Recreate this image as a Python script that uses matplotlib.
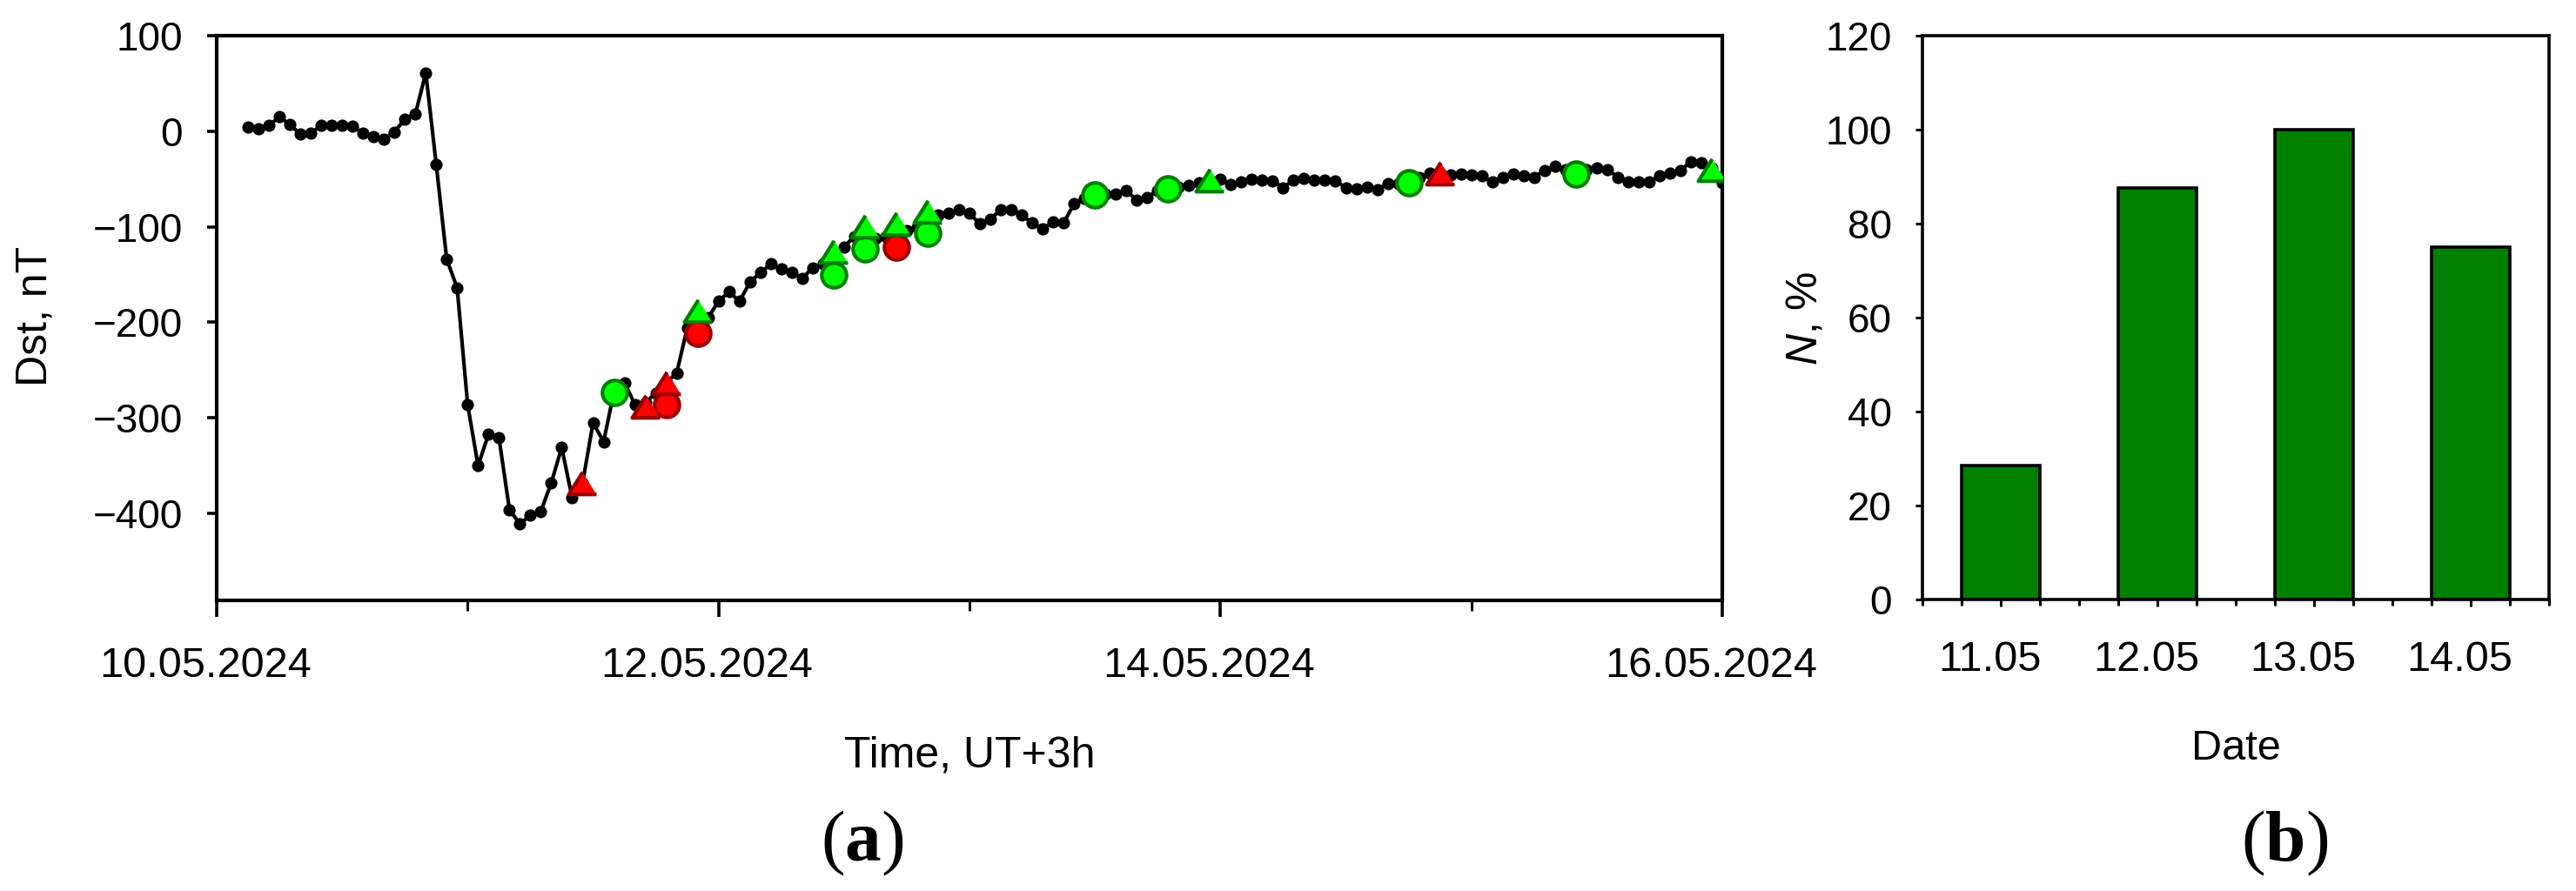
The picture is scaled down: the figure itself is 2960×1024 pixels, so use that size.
import numpy as np
import pandas as pd
import matplotlib
matplotlib.use("Agg")
import matplotlib.pyplot as plt
import matplotlib.dates as mdates
from matplotlib.markers import MarkerStyle
from matplotlib.ticker import MultipleLocator
import matplotlib.transforms as mtransforms

plt.rcParams['font.family'] = ['Liberation Sans', 'DejaVu Sans']
plt.rcParams['mathtext.fontset'] = 'custom'
plt.rcParams['mathtext.rm'] = 'Liberation Sans'
plt.rcParams['mathtext.it'] = 'Liberation Sans:italic'
plt.rcParams['mathtext.bf'] = 'Liberation Serif:bold'

# ---------------- data ----------------
dst_start = '2024-05-10 03:00'   # hourly Dst, UT+3h
dst = [
    4, 3, 6, 15, 7, -3, -2, 6, 6, 6, 5, -2, -6, -8, -1, 13, 18, 61,
    -35, -134, -164, -286, -350, -317, -321, -396, -411, -402, -398, -368,
    -331, -384, -368, -305, -325, -273, -263, -286, -284, -274, -263, -253,
    -206, -200, -195,
    -178, -168, -178, -158, -148, -139, -144, -148, -154, -143, -139, -132,
    -121, -110, -111, -112, -110, -109, -104, -100, -95, -88, -86, -82,
    -86, -97, -92, -82, -82, -88, -96, -102, -95, -96, -76, -70, -66, -66,
    -66, -62, -72, -69, -62, -60, -58, -57, -54, -51,
    -50, -56, -53, -50, -51, -52, -59, -51, -49, -51, -51, -52, -59, -60,
    -58, -61, -55, -55, -54, -48, -44, -44, -46, -45,
    -46, -47, -53, -48, -45, -47, -48, -41, -37, -40, -44, -40, -38, -40,
    -48, -53, -53, -53, -47, -44, -41, -32, -33, -38,
    -54,
]

circle_times = ['2024-05-11 14:00', '2024-05-11 19:00', '2024-05-11 22:00',
                '2024-05-12 11:00', '2024-05-12 14:00', '2024-05-12 17:00',
                '2024-05-12 20:00', '2024-05-13 12:00', '2024-05-13 19:00',
                '2024-05-14 18:00', '2024-05-15 10:00']
circle_values = [-273, -286, -211, -150, -123, -121.5, -107, -66.6, -60.4, -53.6, -44.5]
circle_ok = [True, False, False, True, True, False, True, True, True, True, True]

triangle_times = ['2024-05-11 11:00', '2024-05-11 17:00', '2024-05-11 19:00',
                  '2024-05-11 22:00', '2024-05-12 11:00', '2024-05-12 14:00',
                  '2024-05-12 17:00', '2024-05-12 20:00', '2024-05-13 23:00',
                  '2024-05-14 21:00', '2024-05-15 23:00']
triangle_values = [-368, -288, -263, -188, -126, -99, -97, -84, -51, -44, -40]
triangle_ok = [False, False, False, True, True, True, True, True, True, False, True]

bar_dates = ['11.05', '12.05', '13.05', '14.05']
bar_values = [28.6, 87.5, 100, 75]

# ---------------- figure ----------------
W, H = 2960, 1024
fig = plt.figure(figsize=(W / 100, H / 100), dpi=100)

def px_rect(x0, y0, x1, y1):
    return [x0 / W, 1 - y1 / H, (x1 - x0) / W, (y1 - y0) / H]

ax = fig.add_axes(px_rect(249, 41, 1979, 690))
bx = fig.add_axes(px_rect(2209, 41, 2929, 689))

GREEN_F, GREEN_E = '#00FF00', '#008000'
RED_F, RED_E = '#FF0000', '#990000'

times = pd.date_range(dst_start, periods=len(dst), freq='h')
ax.plot(times, dst, color='black', lw=3.0, marker='o', ms=10.2, mew=0, zorder=2)

tri = MarkerStyle([(0, 0.8), (-1, -0.8), (1, -0.8)], joinstyle='miter')
ct = pd.to_datetime(circle_times)
for t, v, ok in zip(ct, circle_values, circle_ok):
    ax.plot([t], [v], marker='o', ms=20.5, mew=3.0, ls='none',
            mfc=GREEN_F if ok else RED_F, mec=GREEN_E if ok else RED_E, zorder=3)
tt = pd.to_datetime(triangle_times)
for t, v, ok in zip(tt, triangle_values, triangle_ok):
    ax.plot([t], [v], marker=tri, ms=23, mew=3.0, ls='none',
            mfc=GREEN_F if ok else RED_F, mec=GREEN_E if ok else RED_E, zorder=4)

ax.set_xlim(pd.Timestamp('2024-05-10'), pd.Timestamp('2024-05-16'))
ax.set_ylim(-491, 100)
ax.set_yticks([100, 0, -100, -200, -300, -400])
ax.xaxis.set_major_locator(mdates.DayLocator(bymonthday=[10, 12, 14, 16]))
ax.xaxis.set_minor_locator(mdates.DayLocator())
ax.xaxis.set_major_formatter(mdates.DateFormatter('%d.%m.%Y'))
for s in ax.spines.values():
    s.set_linewidth(3.0)
ax.tick_params(axis='y', direction='out', length=8, width=2.6, pad=20, labelsize=33)
ax.tick_params(axis='x', which='major', direction='out', length=13.7, width=2.6,
               pad=24.5, labelsize=35)
ax.tick_params(axis='x', which='minor', direction='out', length=8.6, width=2.2)
ax.tick_params(top=False, right=False)

# bar chart
xpos = np.arange(len(bar_dates))
bx.bar(xpos, bar_values, width=0.5, color='#008000', edgecolor='black', lw=2.6, zorder=2)
bx.set_xlim(-0.5, len(bar_dates) - 0.5)
bx.set_ylim(0, 120)
bx.set_yticks(np.arange(0, 121, 20))
bx.set_xticks(xpos)
bx.set_xticklabels(bar_dates)
bx.xaxis.set_minor_locator(MultipleLocator(0.25))
for s in bx.spines.values():
    s.set_linewidth(2.6)
bx.tick_params(axis='y', direction='out', length=6, width=2.2, pad=19.4, labelsize=33)
bx.tick_params(axis='x', which='major', direction='out', length=5.5, width=2.2,
               pad=28, labelsize=35)
bx.tick_params(axis='x', which='minor', direction='out', length=5.0, width=2.2)

# shift x tick labels slightly left as in the reference
offset = mtransforms.ScaledTranslation(-13 / 100, 0, fig.dpi_scale_trans)
for a in (ax, bx):
    for lab in a.xaxis.get_majorticklabels():
        lab.set_transform(lab.get_transform() + offset)

# axis labels and panel letters
fig.text(40 / W, 1 - 363 / H, 'Dst, nT', rotation=90, fontsize=36,
         ha='center', va='center')
fig.text(1114 / W, 1 - 882 / H, 'Time, UT+3h', fontsize=36,
         ha='center', va='baseline')
fig.text(2075 / W, 1 - 366 / H, r'$\mathit{N}$, %', rotation=90, fontsize=36,
         ha='center', va='center')
fig.text(2569 / W, 1 - 873 / H, 'Date', fontsize=35, ha='center', va='baseline')
fig.text(991 / W, 1 - 969 / H, r'($\mathbf{a}$)', family='Liberation Serif',
         fontsize=60, ha='center', va='center')
fig.text(2625 / W, 1 - 969 / H, r'($\mathbf{b}$)', family='Liberation Serif',
         fontsize=60, ha='center', va='center')

fig.savefig('out.png', dpi=100, facecolor='white')
